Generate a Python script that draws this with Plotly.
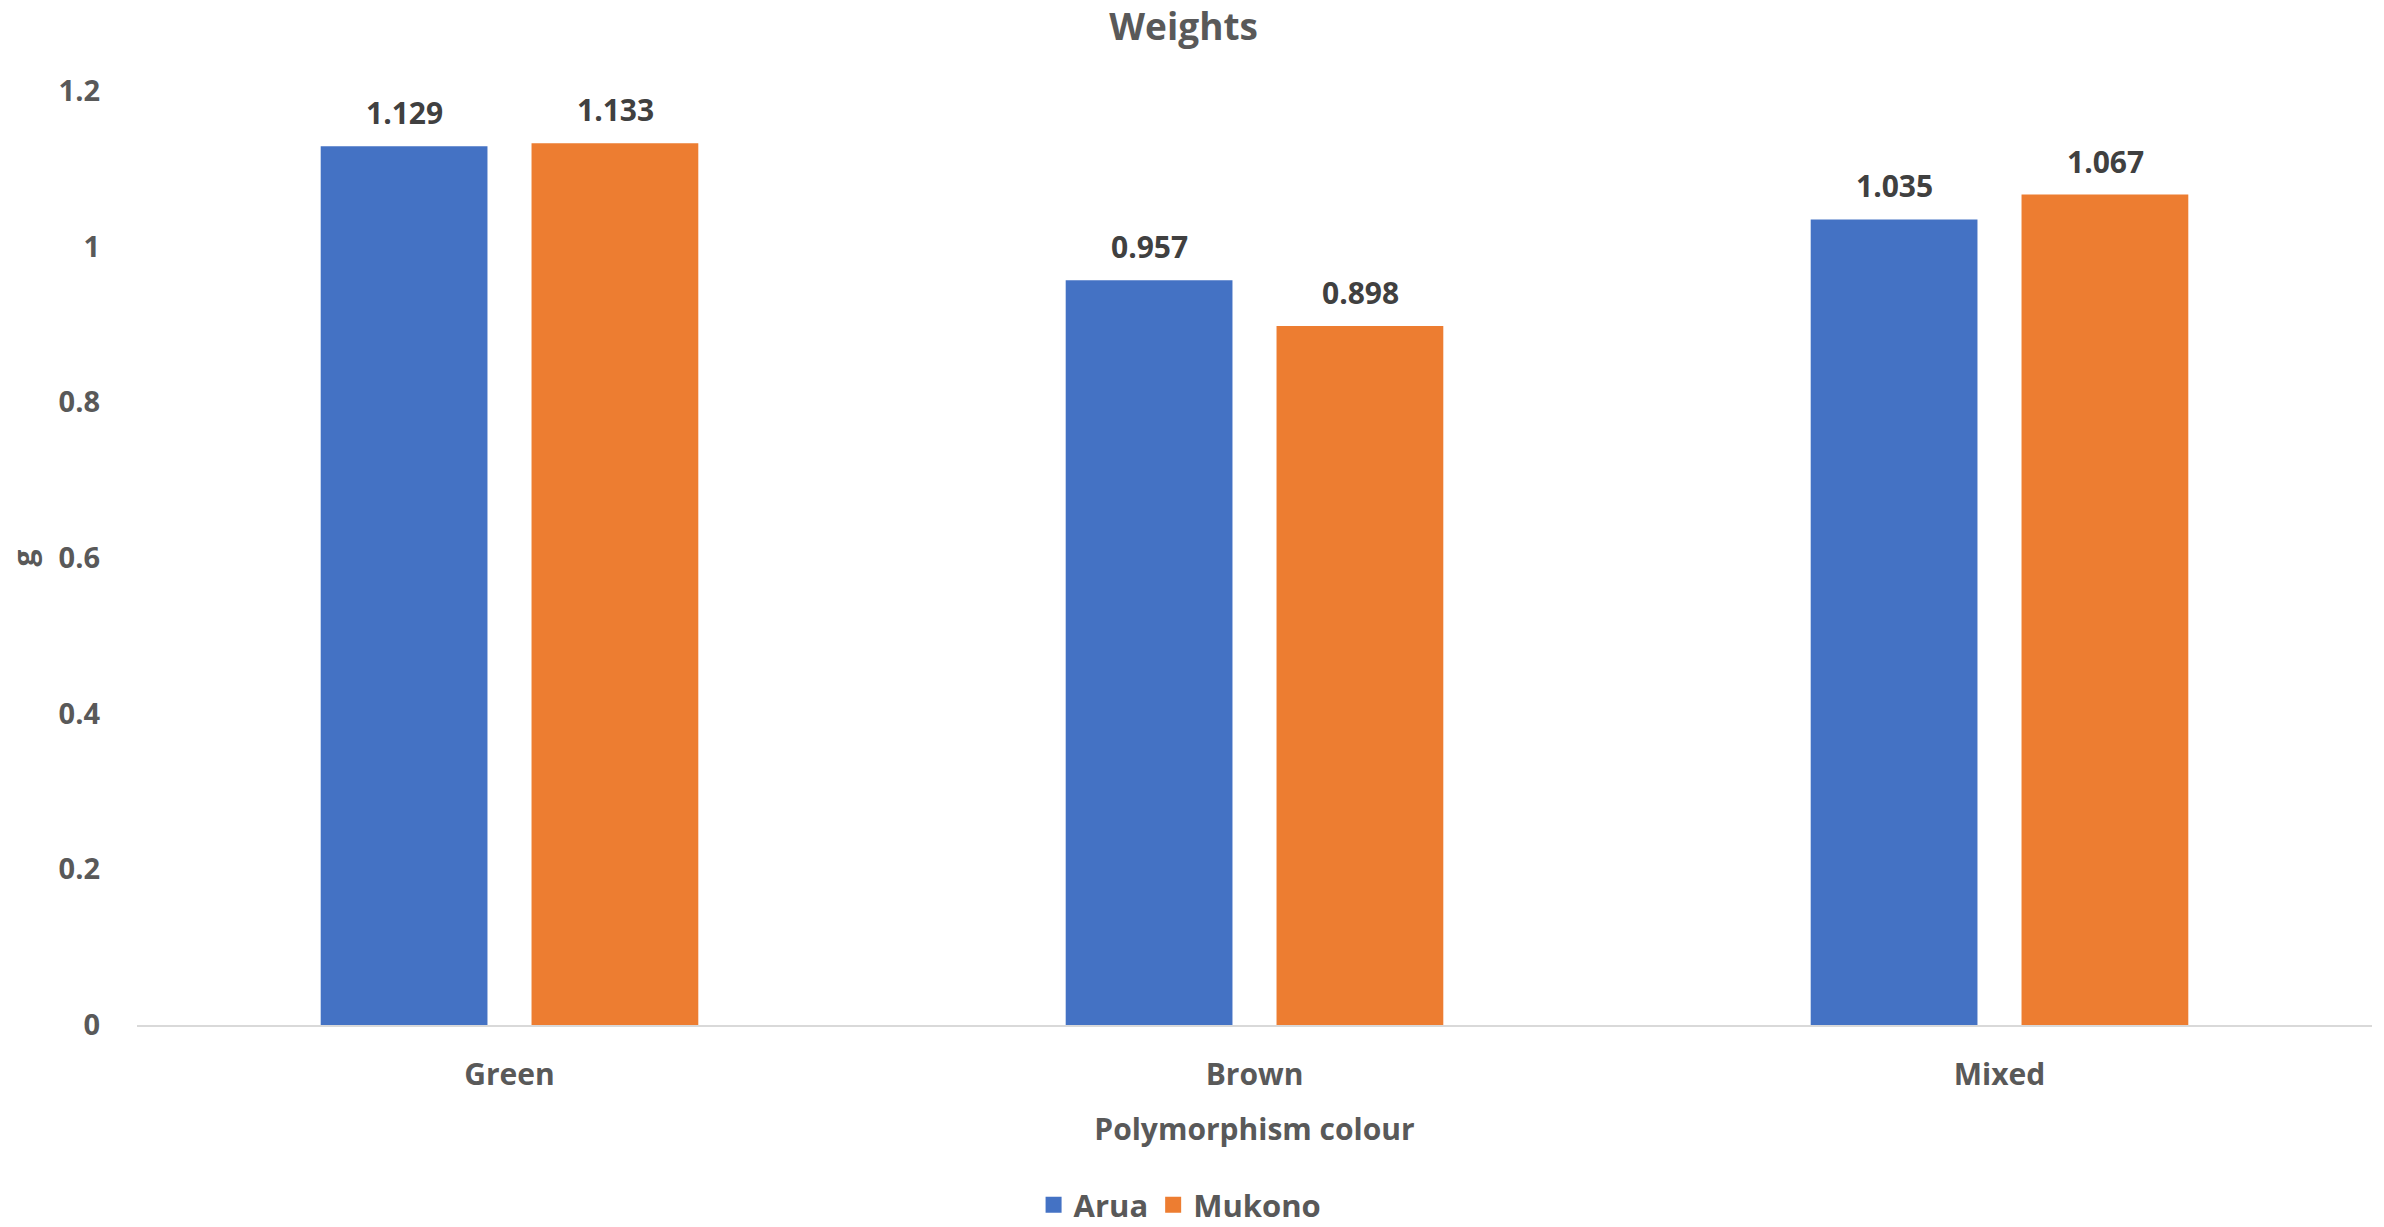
import plotly.graph_objects as go

# Mean weights (g) by polymorphism colour for two locations
categories = ["Green", "Brown", "Mixed"]
arua = [1.129, 0.957, 1.035]
mukono = [1.133, 0.898, 1.067]
y_ticks = [0, 0.2, 0.4, 0.6, 0.8, 1, 1.2]
y_tick_text = ["0", "0.2", "0.4", "0.6", "0.8", "1", "1.2"]

FONT = "Open Sans"
GREY = "#595959"
LABEL = "#404040"
COLORS = {"Arua": "#4472C4", "Mukono": "#ED7D31"}
SERIES = (("Arua", arua), ("Mukono", mukono))
BAR_SPACING_PX = 211  # distance between bar centres within a group

fig = go.Figure()
for name, vals in SERIES:
    fig.add_trace(go.Bar(
        name=name, x=categories, y=vals, marker_color=COLORS[name],
        marker_line_width=0, showlegend=False,
    ))

# value labels above each bar
for i, (name, vals) in enumerate(SERIES):
    for cat, v in zip(categories, vals):
        fig.add_annotation(
            x=cat, y=v, text=f"<b>{v:.3f}</b>", showarrow=False,
            xanchor="center", yanchor="bottom",
            xshift=(i - 0.5) * BAR_SPACING_PX, yshift=11,
            font=dict(family=FONT, size=30, color=LABEL),
        )

# legend entries with larger square swatches
for name, _ in SERIES:
    fig.add_trace(go.Scatter(
        name=f"<b>{name}</b>", x=[None], y=[None], mode="markers",
        marker=dict(symbol="square", size=23, color=COLORS[name]),
        showlegend=True,
    ))

fig.update_layout(
    width=2384, height=1227,
    paper_bgcolor="white", plot_bgcolor="white",
    margin=dict(l=137, r=12, t=91, b=202),
    barmode="group", bargap=0.434, bargroupgap=0.209,
    font=dict(family=FONT, color=GREY, size=30),
    title=dict(text="<b>Weights</b>", x=0.4965, xanchor="center",
               y=1 - 27 / 1227, yanchor="middle",
               font=dict(family=FONT, size=37, color=GREY)),
    legend=dict(orientation="h", xref="container", x=0.495, xanchor="center",
                yref="container", y=1 - 1205 / 1227, yanchor="middle",
                font=dict(family=FONT, size=31, color=GREY),
                itemwidth=30, traceorder="normal", tracegroupgap=0),
)
fig.update_xaxes(
    showline=True, linecolor="#d9d9d9", linewidth=2,
    ticks="", tickvals=categories, ticktext=[f"<b>{c}</b>" for c in categories],
    tickfont=dict(family=FONT, size=30, color=GREY),
    ticklabelstandoff=22,
    title=dict(text="<b>Polymorphism colour</b>", standoff=26,
               font=dict(family=FONT, size=30, color=GREY)),
)
fig.update_yaxes(
    range=[0, 1.2], tickvals=y_ticks, ticktext=[f"<b>{t}</b>" for t in y_tick_text],
    showgrid=False, zeroline=False, showline=False, ticks="",
    tickfont=dict(family=FONT, size=29, color=GREY),
    ticklabelstandoff=36,
    title=dict(text="<b>g</b>", standoff=14,
               font=dict(family=FONT, size=30, color=GREY)),
)

fig.write_html("out.html")
